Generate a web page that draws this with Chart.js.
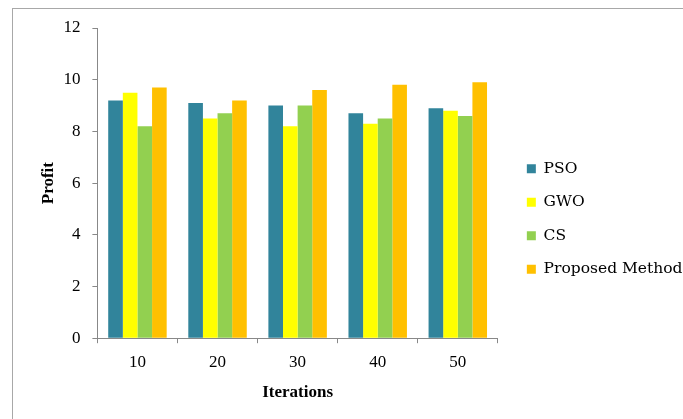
<!DOCTYPE html>
<html>
<head>
<meta charset="utf-8">
<script src="https://cdn.jsdelivr.net/npm/chart.js@4.4.1/dist/chart.umd.min.js"></script>
<style>
  body { margin: 0; background: #fff; overflow: hidden; }
  #frame { position: absolute; left: 12px; top: 8px; width: 720px; height: 460px;
           border-left: 1px solid #a8a8a8; border-top: 1px solid #a8a8a8; }
  #wrap { position: absolute; left: 0; top: 0; width: 683px; height: 419px; }
</style>
</head>
<body>
<div id="frame"></div>
<div id="wrap"><canvas id="myChart" width="683" height="419"></canvas></div>
<script>
// iterations on the x axis
var iterations = ['10', '20', '30', '40', '50'];
// profit for each method
var pso = [9.2, 9.1, 9.0, 8.7, 8.9];
var gwo = [9.5, 8.5, 8.2, 8.3, 8.8];
var cs = [8.2, 8.7, 9.0, 8.5, 8.6];
var proposed = [9.7, 9.2, 9.6, 9.8, 9.9];
var yTicks = [0, 2, 4, 6, 8, 10, 12];

var serif = "'Liberation Serif', 'Times New Roman', serif";
var wideSerif = "'DejaVu Serif', serif";

var barData = {
  labels: iterations,
  datasets: [
    { label: 'PSO', backgroundColor: '#31849b', data: pso },
    { label: 'GWO', backgroundColor: '#ffff00', data: gwo },
    { label: 'CS', backgroundColor: '#92d050', data: cs },
    { label: 'Proposed Method', backgroundColor: '#ffc000', data: proposed }
  ]
};

// push the legend a little away from the plot
var legendShift = {
  id: 'legendShift',
  afterLayout: function(chart) {
    chart.legend.left += 11;
    chart.legend.right += 11;
    chart.legend.top += 1.5;
    chart.legend.bottom += 1.5;
  }
};

var ctx = document.getElementById('myChart');
var myChart = new Chart(ctx, {
  type: 'bar',
  data: barData,
  plugins: [legendShift],
  options: {
    responsive: false,
    animation: false,
    devicePixelRatio: 1,
    layout: { padding: { left: 38, right: 1.5, top: 28, bottom: 12 } },
    datasets: { bar: { categoryPercentage: 0.73, barPercentage: 1.0 } },
    plugins: {
      tooltip: { enabled: false },
      legend: {
        position: 'right',
        align: 'center',
        maxWidth: 260,
        labels: {
          font: { family: wideSerif, size: 15.5 },
          color: '#000',
          boxWidth: 9,
          boxHeight: 9,
          padding: 18
        }
      }
    },
    scales: {
      x: {
        grid: { display: true, drawOnChartArea: false, color: '#888', tickLength: 5, offset: true },
        border: { color: '#888' },
        ticks: { font: { family: serif, size: 17 }, color: '#000', padding: 9 },
        title: { display: true, text: 'Iterations', font: { family: serif, size: 17, weight: 'bold' }, color: '#000', padding: { top: 1 } }
      },
      y: {
        min: 0,
        max: 12,
        afterBuildTicks: function(axis) { axis.ticks = yTicks.map(function(v) { return { value: v }; }); },
        grid: { display: true, drawOnChartArea: false, color: '#888', tickLength: 5 },
        border: { color: '#888' },
        ticks: { font: { family: serif, size: 17 }, color: '#000', padding: 12 },
        title: { display: true, text: 'Profit', font: { family: serif, size: 17, weight: 'bold' }, color: '#000', padding: { top: 0, bottom: -7 } }
      }
    }
  }
});
</script>
</body>
</html>
